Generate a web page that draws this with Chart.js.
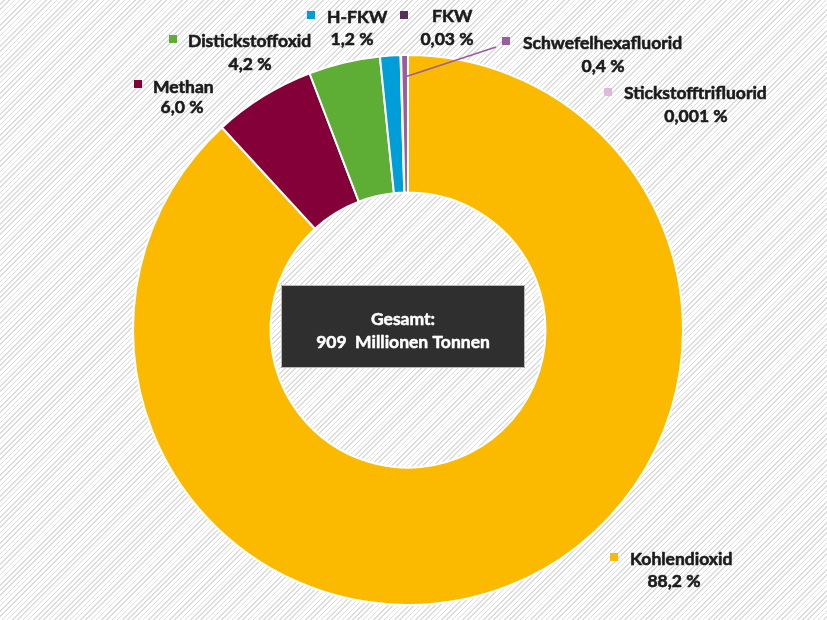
<!DOCTYPE html>
<html><head><meta charset="utf-8">
<script src="https://cdn.jsdelivr.net/npm/chart.js@4"></script>
<style>
html,body{margin:0;padding:0;}
body{width:827px;height:620px;overflow:hidden;background:#fff repeating-linear-gradient(135deg,#ffffff 0px,#ffffff 2.6px,#dcdcdc 2.6px,#dcdcdc 3.7px);}
canvas{display:block;}
</style></head><body>
<canvas id="c" width="827" height="620"></canvas>
<script>
const categories = ['Kohlendioxid','Methan','Distickstoffoxid','H-FKW','FKW','Schwefelhexafluorid','Stickstofftrifluorid'];
const shares = [88.2, 6.0, 4.2, 1.2, 0.03, 0.4, 0.001];
const shareLabels = ['88,2 %','6,0 %','4,2 %','1,2 %','0,03 %','0,4 %','0,001 %'];
const sliceColors = ['#FBBA00','#830039','#5EAE35','#009ED9','#5C2C5B','#9A5CA0','#DDBADB'];
const totalLabel = ['Gesamt:', '909  Millionen Tonnen'];
// [squareX, squareTop, nameX, nameBaseline, valueCenterX, valueBaseline]
const labelLayout = [
  [610, 553, 630, 565, 674, 587],
  [134, 80, 153, 93, 182, 113],
  [169, 35, 188, 47, 250, 70],
  [307, 11, 327, 23, 352, 45],
  [400, 11, 432, 22, 447, 45],
  [502, 37, 523, 49, 603, 72],
  [604, 88, 624, 99, 696, 122]
];
const leaderIndex = 5;
const leaderEnd = [496, 47];
const FONT = 'Lato, "Open Sans", sans-serif';

function boldText(ctx, text, x, y, color, w) {
  ctx.fillStyle = color;
  ctx.strokeStyle = color;
  ctx.lineWidth = w;
  ctx.lineJoin = 'round';
  ctx.strokeText(text, x, y);
  ctx.fillText(text, x, y);
}

const labelPlugin = {
  id: 'labels',
  afterDraw(chart) {
    const ctx = chart.ctx;
    const meta = chart.getDatasetMeta(0);
    ctx.save();
    // leader line
    const arc = meta.data[leaderIndex];
    const mid = (arc.startAngle + arc.endAngle) / 2;
    const r = arc.outerRadius - 22;
    ctx.strokeStyle = sliceColors[leaderIndex];
    ctx.lineWidth = 1.5;
    ctx.beginPath();
    ctx.moveTo(arc.x + Math.cos(mid) * r, arc.y + Math.sin(mid) * r);
    ctx.lineTo(leaderEnd[0], leaderEnd[1]);
    ctx.stroke();
    // labels
    ctx.font = 'bold 17.5px ' + FONT;
    ctx.textBaseline = 'alphabetic';
    categories.forEach((name, i) => {
      const L = labelLayout[i];
      ctx.fillStyle = sliceColors[i];
      ctx.fillRect(L[0], L[1], 8, 8);
      ctx.textAlign = 'left';
      boldText(ctx, name, L[2], L[3], '#1b1b1b', 0.6);
      ctx.textAlign = 'center';
      boldText(ctx, shareLabels[i], L[4], L[5], '#1b1b1b', 0.6);
    });
    // center box
    ctx.fillStyle = '#2f2f2f';
    ctx.fillRect(281, 285, 244, 83);
    ctx.strokeStyle = 'rgba(220,220,220,0.8)';
    ctx.lineWidth = 1;
    ctx.strokeRect(281.5, 285.5, 243, 82);
    ctx.font = 'bold 17.5px ' + FONT;
    ctx.textAlign = 'center';
    boldText(ctx, totalLabel[0], 403, 325, '#ffffff', 0.5);
    boldText(ctx, totalLabel[1], 403, 348, '#ffffff', 0.5);
    ctx.restore();
  }
};

new Chart(document.getElementById('c'), {
  type: 'doughnut',
  data: {
    labels: categories,
    datasets: [{
      data: shares,
      backgroundColor: sliceColors,
      borderColor: '#ffffff',
      borderWidth: 2
    }]
  },
  options: {
    responsive: false,
    animation: false,
    cutout: '50%',
    layout: { padding: { top: 54, bottom: 14, left: 132, right: 143 } },
    plugins: { legend: { display: false }, tooltip: { enabled: false } }
  },
  plugins: [labelPlugin]
});
</script>
</body></html>
